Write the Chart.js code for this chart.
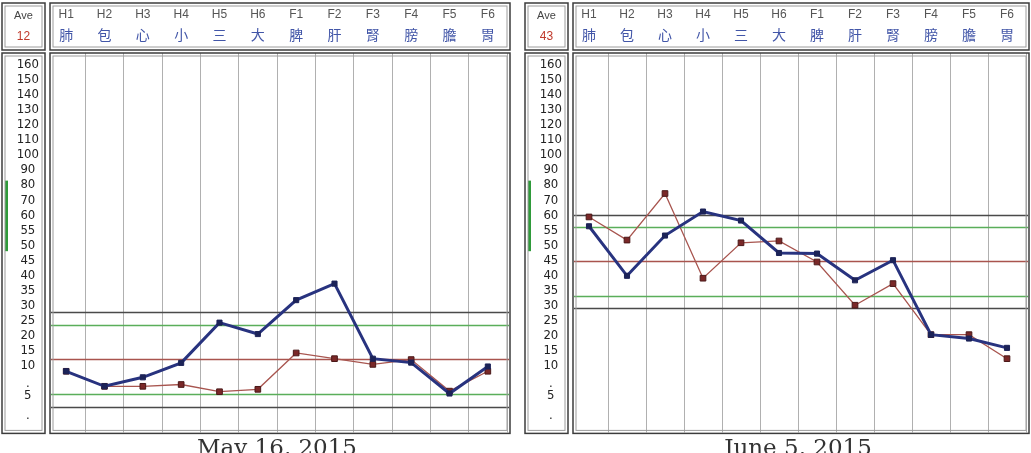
<!DOCTYPE html>
<html>
<head>
<meta charset="utf-8">
<script src="https://cdn.jsdelivr.net/npm/chart.js@4.4.1/dist/chart.umd.min.js"></script>
<style>
html, body { margin: 0; padding: 0; width: 1031px; height: 453px; overflow: hidden; background: #fff; }
.panel { position: absolute; top: 0; height: 463px; }
#p1 { left: 0; width: 514px; }
#p2 { left: 522px; width: 509px; }
</style>
</head>
<body>
<div class="panel" id="p1"><canvas id="c1"></canvas></div>
<div class="panel" id="p2"><canvas id="c2"></canvas></div>
<script>
const codes = ['H1', 'H2', 'H3', 'H4', 'H5', 'H6', 'F1', 'F2', 'F3', 'F4', 'F5', 'F6'];
const organs = ['肺', '包', '心', '小', '三', '大', '脾', '肝', '腎', '膀', '膽', '胃'];

// the y scale is uneven: these ticks sit at equal spacing
const yTicks = [160, 150, 140, 130, 120, 110, 100, 90, 80, 70, 60, 55, 50, 45, 40, 35, 30, 25, 20, 15, 10, 7, 5, 1.7];
const yTickLabels = ['160', '150', '140', '130', '120', '110', '100', '90', '80', '70', '60', '55', '50', '45', '40', '35', '30', '25', '20', '15', '10', '.', '5', '.'];
const scaleBreaks = [[0, -2], [5, 0], [10, 2], [60, 12], [160, 22]];
const normalRange = [48, 83];

const mayTitle = 'May 16, 2015';
const mayAve = 12;
const mayBlue = [9, 6.5, 8, 10.8, 24.2, 20.4, 31.7, 37.2, 12.2, 10.9, 5.3, 9.8];
const mayRed = [9, 6.5, 6.5, 6.8, 5.6, 6.0, 14.1, 12.2, 10.3, 11.9, 5.7, 9.0];
const mayLines = [27.7, 23.3, 12, 5.3, 3];

const juneTitle = 'June 5, 2015';
const juneAve = 43;
const juneBlue = [56.3, 39.8, 53.2, 62.4, 58.2, 47.4, 47.2, 38.3, 45, 20.2, 18.9, 15.8];
const juneRed = [59.4, 51.7, 74.4, 39, 50.8, 51.4, 44.4, 30, 37.2, 20.2, 20.2, 12.2];
const juneLines = [60, 56, 44.6, 33, 29];

const refColors = ['#4a4a4a', '#5aae5a', '#a9544e', '#5aae5a', '#4a4a4a'];
const refWidths = [1.5, 1.3, 1.3, 1.3, 1.5];

function toSlot(v) {
  for (let i = 1; i < scaleBreaks.length; i++) {
    const [v0, s0] = scaleBreaks[i - 1];
    const [v1, s1] = scaleBreaks[i];
    if (v <= v1 || i === scaleBreaks.length - 1) return s0 + (v - v0) * (s1 - s0) / (v1 - v0);
  }
}

function box(ctx, x0, y0, x1, y1) {
  ctx.strokeStyle = '#3c3c3c';
  ctx.lineWidth = 1.5;
  ctx.strokeRect(x0, y0, x1 - x0, y1 - y0);
  ctx.strokeStyle = '#9c9c9c';
  ctx.lineWidth = 1;
  ctx.strokeRect(x0 + 3, y0 + 3, x1 - x0 - 6, y1 - y0 - 6);
}

const panelDecor = {
  id: 'panelDecor',
  beforeDatasetsDraw(chart, args, opts) {
    const {ctx, chartArea: a, scales: {y}} = chart;
    ctx.save();
    opts.lines.forEach((v, i) => {
      const py = Math.round(y.getPixelForValue(toSlot(v))) + 0.5;
      ctx.strokeStyle = refColors[i];
      ctx.lineWidth = refWidths[i];
      ctx.beginPath();
      ctx.moveTo(a.left + 4, py);
      ctx.lineTo(a.right + 2, py);
      ctx.stroke();
    });
    // green bar beside the normal range
    ctx.strokeStyle = '#2f9a3a';
    ctx.lineWidth = 3;
    ctx.beginPath();
    ctx.moveTo(y.left + 5.5, y.getPixelForValue(toSlot(normalRange[1])));
    ctx.lineTo(y.left + 5.5, y.getPixelForValue(toSlot(normalRange[0])));
    ctx.stroke();
    ctx.restore();
  },
  afterDraw(chart, args, opts) {
    const {ctx, chartArea: a, scales: {y}} = chart;
    const yl = y.left + 1, yr = a.left - 2;
    ctx.save();
    box(ctx, yl, a.top - 50, yr, a.top - 3);
    box(ctx, yl, a.top, yr, a.bottom + 1);
    box(ctx, a.left + 3, a.top - 50, a.right + 3, a.top - 3);
    box(ctx, a.left + 3, a.top, a.right + 3, a.bottom + 1);
    ctx.textAlign = 'center';
    ctx.textBaseline = 'middle';
    ctx.fillStyle = '#444';
    ctx.font = '11px "Liberation Sans Narrow", "Liberation Sans", sans-serif';
    ctx.fillText('Ave', (yl + yr) / 2, a.top - 37);
    ctx.fillStyle = '#c0392b';
    ctx.font = '12px "Liberation Sans", sans-serif';
    ctx.fillText(String(opts.ave), (yl + yr) / 2, a.top - 16);
    ctx.restore();
  }
};

function makeChart(id, title, ave, blue, red, lines, pad) {
  return new Chart(document.getElementById(id), {
    type: 'line',
    data: {
      labels: codes,
      datasets: [
        {
          label: 'red', data: red.map(toSlot), order: 2,
          borderColor: '#a8554f', borderWidth: 1.3,
          pointStyle: 'rect', pointRadius: 4, pointBackgroundColor: '#7a2828',
          pointBorderColor: '#4a1818', pointBorderWidth: 1
        },
        {
          label: 'blue', data: blue.map(toSlot), order: 1,
          borderColor: '#28337f', borderWidth: 3,
          pointStyle: 'rect', pointRadius: 3.6, pointBackgroundColor: '#1c2358',
          pointBorderColor: '#1c2358', pointBorderWidth: 1
        }
      ]
    },
    options: {
      responsive: true,
      maintainAspectRatio: false,
      animation: false,
      layout: {padding: {left: pad[0], right: pad[1], top: 0, bottom: 0}},
      plugins: {
        legend: {display: false},
        tooltip: {enabled: false},
        title: {
          display: true, text: title, position: 'bottom', fullSize: false,
          color: '#333', padding: {top: 3, bottom: 0},
          font: {family: '"DejaVu Serif", serif', size: 23, weight: 'normal'}
        },
        panelDecor: {ave: ave, lines: lines}
      },
      scales: {
        x: {
          type: 'category', labels: codes, position: 'top', offset: true, weight: 2,
          grid: {display: false, drawTicks: false}, border: {display: false},
          ticks: {padding: 4, color: '#555', autoSkip: false, maxRotation: 0,
            font: {family: '"Liberation Sans", sans-serif', size: 12}},
          afterFit: s => { s.height = 26; }
        },
        x2: {
          type: 'category', labels: organs, position: 'top', offset: true, weight: 1,
          grid: {offset: true, drawTicks: false, lineWidth: 1,
            color: c => (c.index === 0 || c.index === codes.length) ? 'rgba(0,0,0,0)' : '#b0b0b0'},
          border: {display: false},
          ticks: {padding: 10, color: '#4256a8', autoSkip: false, maxRotation: 0,
            font: {family: '"Noto Sans CJK TC", sans-serif', size: 14}},
          afterFit: s => { s.height = 27; }
        },
        y: {
          min: -2.47, max: 22.8,
          grid: {display: false}, border: {display: false},
          afterBuildTicks: s => { s.ticks = yTicks.map(v => ({value: toSlot(v)})); },
          afterFit: s => { s.width = 46; },
          ticks: {autoSkip: false, crossAlign: 'center', padding: 0, color: '#222',
            font: {family: '"Liberation Sans Narrow", "DejaVu Sans Condensed", sans-serif', size: 13},
            callback: (v, i) => yTickLabels[i]}
        }
      }
    },
    plugins: [panelDecor]
  });
}

makeChart('c1', mayTitle, mayAve, mayBlue, mayRed, mayLines, [1, 7]);
makeChart('c2', juneTitle, juneAve, juneBlue, juneRed, juneLines, [2, 5]);
</script>
</body>
</html>
